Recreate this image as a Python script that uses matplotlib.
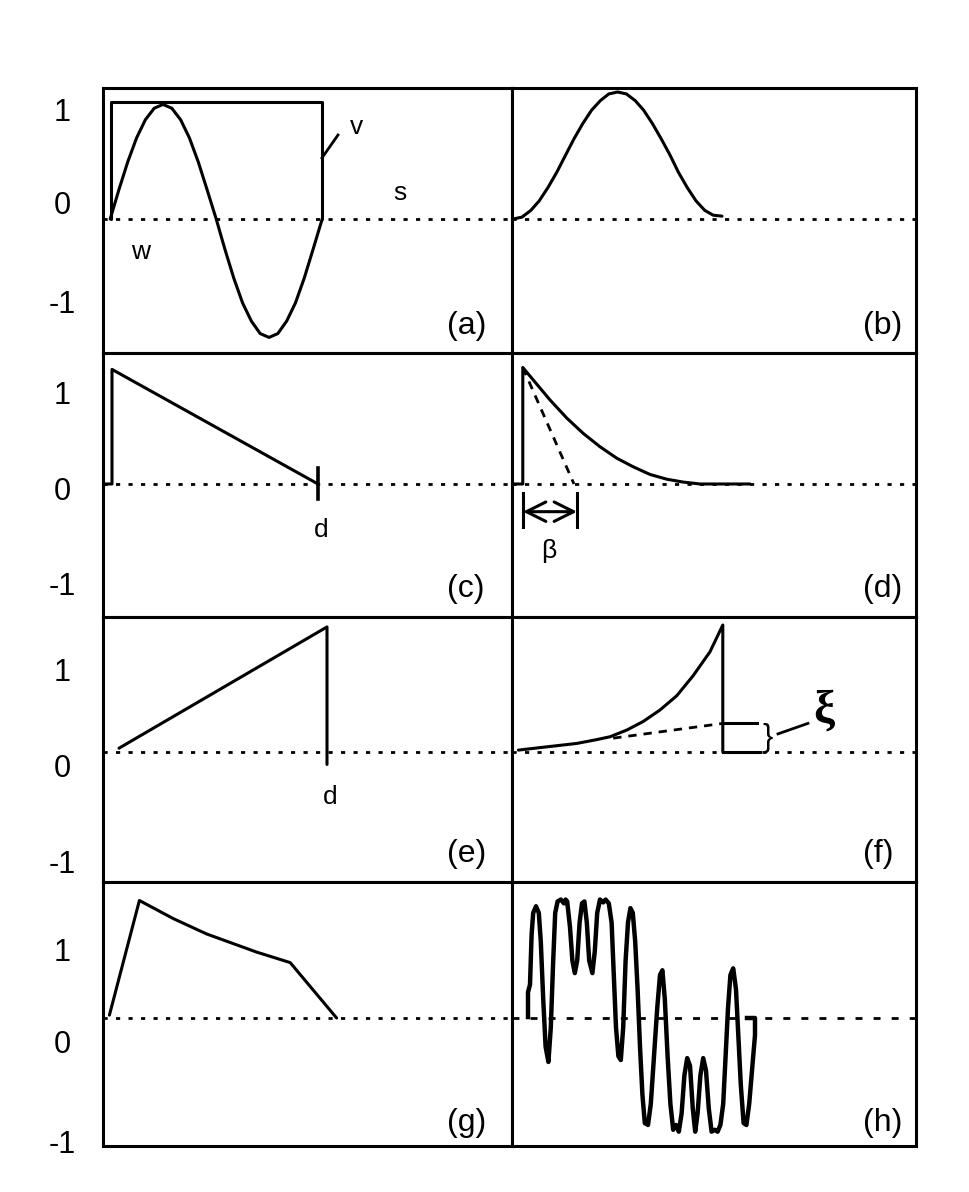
import matplotlib.pyplot as plt

plt.rcParams['font.family'] = ['Liberation Sans', 'DejaVu Sans']

# ---- values (x: time units, y: signal units, baseline = 0)
# (a) one sine period and its enclosing rectangle
a_x = [0.18, 0.40, 0.62, 0.84, 1.06, 1.28, 1.50, 1.72, 1.94, 2.16, 2.38, 2.60, 2.83,
       3.05, 3.27, 3.49, 3.71, 3.93, 4.15, 4.37, 4.59, 4.81, 5.03, 5.25, 5.48]
a_y = [0, 0.31, 0.60, 0.85, 1.04, 1.16, 1.20, 1.16, 1.04, 0.85, 0.60, 0.31, 0,
       -0.32, -0.62, -0.88, -1.07, -1.20, -1.24, -1.20, -1.07, -0.88, -0.62, -0.32, 0]
a_box_x = [0.2, 0.2, 5.475, 5.475]
a_box_y = [0, 1.225, 1.225, 0]

# (b) raised cosine pulse
b_x = [0.03, 0.25, 0.47, 0.68, 0.90, 1.12, 1.34, 1.55, 1.77, 1.99, 2.21, 2.42, 2.64,
       2.86, 3.08, 3.29, 3.51, 3.73, 3.95, 4.16, 4.38, 4.60, 4.82, 5.03, 5.25]
b_y = [0, 0.02, 0.09, 0.19, 0.33, 0.49, 0.67, 0.84, 1.00, 1.14, 1.24, 1.31, 1.33,
       1.31, 1.24, 1.14, 1.00, 0.84, 0.67, 0.49, 0.33, 0.19, 0.09, 0.04, 0.03]

# (c) linear decay to d
c_x = [0, 0.225, 0.225, 5.375]
c_y = [0, 0, 1.20, 0]

# (d) exponential decay with time constant beta
d_x = [0, 0.27, 0.27, 0.53, 0.95, 1.37, 1.78, 2.20, 2.62, 3.03, 3.45, 3.87, 4.28, 4.70, 5.95]
d_y = [0, 0, 1.22, 1.09, 0.88, 0.69, 0.53, 0.39, 0.27, 0.18, 0.10, 0.05, 0.02, 0.0, 0.0]
d_tan_x = [0.27, 1.55]
d_tan_y = [1.22, 0]

# (e) linear rise to d
e_x = [0.4, 5.6, 5.6]
e_y = [0.04, 1.31, -0.13]

# (f) growing exponential with offset xi
f_x = [0.16, 0.78, 1.62, 2.12, 2.45, 2.87, 3.28, 3.70, 4.12, 4.53, 4.95, 5.27, 5.27]
f_y = [0.02, 0.05, 0.09, 0.13, 0.16, 0.23, 0.32, 0.44, 0.59, 0.80, 1.05, 1.33, 0]
f_tan_x = [2.53, 5.28]
f_tan_y = [0.145, 0.30]

# (g) piecewise linear pulse
g_x = [0.16, 0.91, 1.76, 2.59, 3.84, 4.68, 5.84]
g_y = [0.03, 1.23, 1.04, 0.88, 0.69, 0.58, 0.0]

# (h) complex waveform
h_x = [0.40, 0.40, 0.45, 0.49, 0.53, 0.60, 0.67, 0.72, 0.78, 0.84, 0.91, 0.97, 1.03,
       1.08, 1.14, 1.22, 1.30, 1.34, 1.38, 1.45, 1.51, 1.57, 1.63, 1.69, 1.75, 1.81,
       1.87, 1.93, 2.01, 2.07, 2.13, 2.20, 2.28, 2.34, 2.42, 2.49, 2.54, 2.60, 2.66,
       2.72, 2.78, 2.84, 2.90, 2.96, 3.02, 3.08, 3.14, 3.20, 3.26, 3.32, 3.40, 3.47,
       3.55, 3.63, 3.70, 3.76, 3.82, 3.89, 3.96, 4.03, 4.10, 4.17, 4.24, 4.31, 4.38,
       4.45, 4.52, 4.58, 4.64, 4.71, 4.78, 4.85, 4.92, 4.99, 5.07, 5.14, 5.21, 5.28,
       5.34, 5.40, 5.46, 5.53, 5.60, 5.66, 5.72, 5.79, 5.86, 5.93, 6.00, 6.075, 6.075, 5.875]
h_y = [0.01, 0.27, 0.35, 0.87, 1.10, 1.17, 1.10, 0.80, 0.20, -0.30, -0.46, -0.10, 0.60,
       1.10, 1.22, 1.24, 1.20, 1.24, 1.22, 0.95, 0.60, 0.47, 0.60, 1.00, 1.20, 1.22,
       1.00, 0.60, 0.47, 0.70, 1.10, 1.24, 1.21, 1.24, 1.20, 1.00, 0.50, -0.10, -0.40,
       -0.44, -0.10, 0.60, 1.00, 1.15, 1.10, 0.80, 0.30, -0.30, -0.80, -1.10, -1.12, -0.90,
       -0.40, 0.10, 0.45, 0.50, 0.20, -0.40, -0.90, -1.17, -1.12, -1.19, -1.00, -0.60, -0.42,
       -0.50, -0.95, -1.19, -1.00, -0.60, -0.42, -0.55, -0.95, -1.19, -1.17, -1.19, -1.12, -0.90,
       -0.40, 0.10, 0.45, 0.52, 0.30, -0.20, -0.70, -1.10, -1.12, -0.90, -0.55, -0.18, 0, 0]

tick_labels = ['1', '0', '-1']
tick_pos = [[1.15, 0.17, -0.86], [0.96, -0.05, -1.04],
            [0.86, -0.14, -1.15], [0.72, -0.25, -1.29]]
row_ylim = [(-1.398, 1.372), (-1.393, 1.377), (-1.356, 1.414), (-1.340, 1.429)]
label_y = [-1.12, -1.10, -1.07, -1.10]
panel_labels = ['(a)', '(b)', '(c)', '(d)', '(e)', '(f)', '(g)', '(h)']

LW = 2.2
DOT = (0, (1.5, 3))
DASH = (0, (3, 2.5))

fig, axes = plt.subplots(4, 2, figsize=(9.7, 11.92), dpi=100,
                         gridspec_kw=dict(width_ratios=[409, 404], wspace=0, hspace=0))
fig.subplots_adjust(left=103 / 970, right=916 / 970, top=1 - 88 / 1192, bottom=1 - 1146 / 1192)

for r in range(4):
    for c in range(2):
        ax = axes[r, c]
        ax.set_xlim(0, 10.225 if c == 0 else 10.1)
        ax.set_ylim(*row_ylim[r])
        ax.set_xticks([])
        for sp in ax.spines.values():
            sp.set_linewidth(LW)
        if c == 0:
            ax.set_yticks(tick_pos[r])
            ax.set_yticklabels(tick_labels, fontsize=22, ha='center')
            ax.tick_params(axis='y', length=0, pad=29.5)
        else:
            ax.set_yticks([])
        ax.axhline(0, color='k', lw=2, ls=DOT if (r, c) != (3, 1) else (0, (2.5, 4)))
        ax.text(8.6 if c == 0 else 8.775, label_y[r], panel_labels[2 * r + c],
                fontsize=23, ha='left', va='center')

k = dict(color='k', lw=LW, solid_joinstyle='round', solid_capstyle='round')

# (a)
ax = axes[0, 0]
ax.plot(a_box_x, a_box_y, **k)
ax.plot(a_x, a_y, **k)
ax.plot([5.475, 5.875], [0.64, 0.88], color='k', lw=2)
ax.text(6.35, 0.96, 'v', fontsize=19, ha='center', va='center')
ax.text(7.43, 0.27, 's', fontsize=19, ha='center', va='center')
ax.text(0.93, -0.35, 'w', fontsize=19, ha='center', va='center')

# (b)
axes[0, 1].plot(b_x, b_y, **k)

# (c)
ax = axes[1, 0]
ax.plot(c_x, c_y, **k)
ax.plot([5.375, 5.375], [0.17, -0.16], color='k', lw=2.6)
ax.text(5.45, -0.48, 'd', fontsize=19, ha='center', va='center')

# (d)
ax = axes[1, 1]
ax.plot(d_x, d_y, **k)
ax.plot(d_tan_x, d_tan_y, color='k', lw=2, ls=DASH)
ax.annotate('', xy=(0.275, -0.29), xytext=(1.625, -0.29),
            arrowprops=dict(arrowstyle='<->,head_length=0.7,head_width=0.35',
                            lw=2.2, color='k', mutation_scale=20, shrinkA=0, shrinkB=0))
ax.plot([0.275, 0.275], [-0.09, -0.45], color='k', lw=2.2)
ax.plot([1.625, 1.625], [-0.09, -0.45], color='k', lw=2.2)
ax.text(0.93, -0.70, 'β', fontsize=19, ha='center', va='center')

# (e)
ax = axes[2, 0]
ax.plot(e_x, e_y, **k)
ax.text(5.675, -0.47, 'd', fontsize=19, ha='center', va='center')

# (f)
ax = axes[2, 1]
ax.plot(f_x, f_y, **k)
ax.plot(f_tan_x, f_tan_y, color='k', lw=2, ls=DASH)
ax.plot([5.28, 6.12], [0.30, 0.30], color='k', lw=LW)
ax.plot([5.28, 6.2], [0, 0], color='k', lw=LW)
ax.text(6.38, 0.15, '}', fontsize=22, ha='center', va='center')
ax.plot([6.65, 7.4], [0.19, 0.30], color='k', lw=2)
ax.text(7.8, 0.42, 'ξ', fontsize=34, fontweight='bold', family='Liberation Serif',
        ha='center', va='center')

# (g)
axes[3, 0].plot(g_x, g_y, **k)

# (h)
axes[3, 1].plot(h_x, h_y, color='k', lw=3.2, solid_joinstyle='round')

plt.savefig('out.png', dpi=100)
